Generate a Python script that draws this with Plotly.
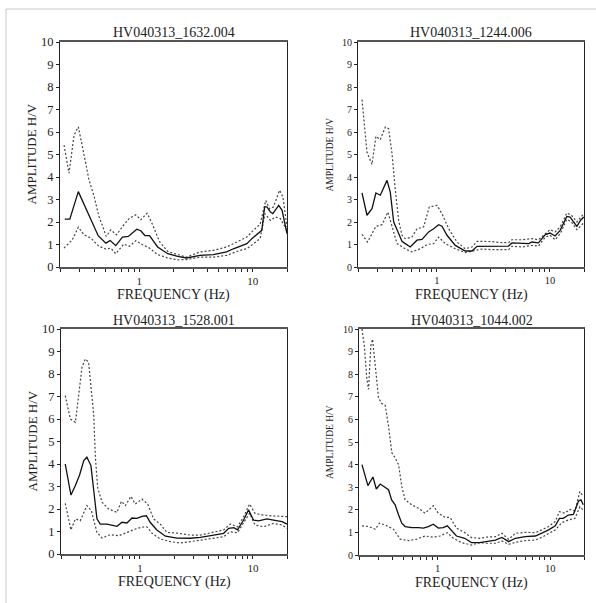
import plotly.graph_objects as go

# ---------------- data ----------------
titles = ["HV040313_1632.004", "HV040313_1244.006", "HV040313_1528.001", "HV040313_1044.002"]
x_tick_vals = [0.2, 0.3, 0.4, 0.5, 0.6, 0.7, 0.8, 0.9, 1, 2, 3, 4, 5, 6, 7, 8, 9, 10, 20]
x_tick_text = ["", "", "", "", "", "", "", "", "1", "", "", "", "", "", "", "", "", "10", ""]
y_tick_vals = [0, 1, 2, 3, 4, 5, 6, 7, 8, 9, 10]

# Panel 1: HV040313_1632.004
p1_mean_f = [0.22, 0.244, 0.29, 0.337, 0.387, 0.434, 0.507, 0.554, 0.62, 0.71, 0.80, 0.87, 0.95, 1.03, 1.12, 1.23, 1.45, 1.78, 2.18, 2.6, 3.42, 4.49, 5.88, 6.74, 7.73, 8.86, 9.8, 11.2, 12.0, 12.7, 13.3, 14.3, 15.0, 16.9, 18.1, 20]
p1_mean = [2.13, 2.13, 3.35, 2.61, 1.95, 1.39, 1.06, 1.18, 0.95, 1.33, 1.36, 1.51, 1.68, 1.61, 1.40, 1.39, 0.89, 0.59, 0.47, 0.40, 0.52, 0.55, 0.67, 0.81, 0.92, 1.04, 1.26, 1.48, 1.63, 2.67, 2.67, 2.44, 2.37, 2.74, 2.52, 1.48]
p1_up_f = [0.217, 0.24, 0.266, 0.29, 0.315, 0.36, 0.40, 0.44, 0.47, 0.51, 0.56, 0.63, 0.71, 0.82, 0.93, 1.03, 1.17, 1.31, 1.50, 1.78, 2.18, 2.6, 3.42, 4.49, 5.88, 7.73, 8.86, 10.1, 11.6, 13.0, 14.0, 15.2, 17.2, 18.4, 20]
p1_up = [5.42, 4.17, 5.86, 6.23, 5.35, 3.87, 3.13, 2.25, 1.88, 1.36, 1.65, 1.43, 1.80, 2.17, 2.32, 2.10, 2.39, 1.88, 1.14, 0.69, 0.55, 0.44, 0.67, 0.74, 0.89, 1.19, 1.33, 1.63, 1.90, 2.96, 2.59, 2.67, 3.41, 3.11, 1.78]
p1_lo_f = [0.217, 0.257, 0.29, 0.326, 0.373, 0.44, 0.507, 0.56, 0.62, 0.73, 0.82, 0.93, 1.07, 1.23, 1.45, 1.78, 2.18, 2.6, 3.42, 4.49, 5.88, 7.73, 8.86, 10.1, 11.6, 12.8, 14.3, 15.8, 17.5, 20]
p1_lo = [0.84, 1.21, 1.77, 1.43, 1.29, 0.92, 0.80, 0.84, 0.59, 1.02, 0.92, 1.17, 0.99, 0.84, 0.55, 0.40, 0.32, 0.33, 0.44, 0.44, 0.52, 0.74, 0.81, 1.04, 1.26, 2.37, 2.07, 2.22, 2.15, 1.63]

# Panel 2: HV040313_1244.006
p2_mean_f = [0.217, 0.24, 0.266, 0.288, 0.315, 0.361, 0.386, 0.414, 0.452, 0.49, 0.524, 0.58, 0.665, 0.737, 0.844, 0.934, 1.034, 1.107, 1.226, 1.453, 1.78, 2.04, 2.26, 2.68, 3.07, 3.76, 4.3, 4.6, 5.65, 6.5, 6.9, 7.9, 9.1, 10.0, 11.1, 12.3, 14.1, 15.1, 16.2, 17.3, 18.6, 19.9]
p2_mean = [3.29, 2.30, 2.59, 3.29, 3.19, 3.85, 3.33, 2.0, 1.56, 1.14, 1.04, 0.89, 1.19, 1.23, 1.56, 1.70, 1.88, 1.81, 1.41, 0.96, 0.71, 0.71, 0.92, 0.93, 0.93, 0.93, 0.93, 1.07, 1.07, 1.04, 1.11, 1.07, 1.44, 1.51, 1.38, 1.63, 2.25, 2.22, 2.0, 1.81, 2.07, 2.22]
p2_up_f = [0.217, 0.24, 0.266, 0.288, 0.315, 0.349, 0.373, 0.40, 0.428, 0.458, 0.49, 0.524, 0.60, 0.665, 0.762, 0.855, 1.0, 1.107, 1.268, 1.503, 1.78, 2.04, 2.26, 2.68, 3.07, 3.76, 4.3, 4.6, 5.65, 6.9, 7.9, 9.1, 10.0, 11.1, 12.3, 14.1, 15.5, 17.3, 19.9]
p2_up = [7.44, 5.11, 4.56, 5.81, 5.66, 6.22, 6.15, 5.04, 3.41, 2.07, 1.41, 1.26, 1.33, 1.70, 1.78, 2.67, 2.74, 2.37, 1.70, 1.11, 0.81, 0.89, 1.14, 1.14, 1.13, 1.08, 1.08, 1.21, 1.21, 1.26, 1.21, 1.48, 1.66, 1.56, 1.78, 2.40, 2.30, 2.0, 2.37]
p2_lo_f = [0.217, 0.243, 0.288, 0.326, 0.368, 0.40, 0.443, 0.524, 0.60, 0.712, 0.816, 0.934, 1.034, 1.185, 1.453, 1.78, 2.18, 2.5, 3.07, 4.3, 4.6, 5.65, 6.9, 7.9, 9.1, 10.0, 11.1, 12.3, 14.1, 15.5, 17.3, 19.9]
p2_lo = [1.45, 1.11, 1.81, 1.88, 2.44, 1.78, 1.04, 0.81, 0.67, 0.81, 1.0, 1.04, 1.33, 1.04, 0.81, 0.64, 0.74, 0.80, 0.77, 0.77, 0.92, 0.89, 0.96, 0.93, 1.33, 1.41, 1.21, 1.48, 2.12, 2.0, 1.66, 1.96]

# Panel 3: HV040313_1528.001
p3_mean_f = [0.218, 0.245, 0.268, 0.292, 0.318, 0.339, 0.368, 0.389, 0.416, 0.445, 0.511, 0.585, 0.626, 0.693, 0.767, 0.849, 0.941, 1.04, 1.14, 1.23, 1.41, 1.68, 2.13, 2.79, 3.42, 4.49, 5.5, 6.1, 6.77, 7.3, 8.26, 9.13, 10.1, 11.2, 13.3, 15.2, 18.1, 20]
p3_mean = [4.0, 2.62, 3.04, 3.51, 4.15, 4.30, 3.93, 2.96, 1.56, 1.33, 1.33, 1.26, 1.23, 1.41, 1.38, 1.60, 1.58, 1.67, 1.70, 1.41, 1.07, 0.79, 0.71, 0.70, 0.74, 0.84, 0.92, 1.14, 1.17, 1.07, 1.51, 1.96, 1.51, 1.47, 1.56, 1.51, 1.44, 1.33]
p3_up_f = [0.218, 0.242, 0.268, 0.287, 0.307, 0.328, 0.351, 0.371, 0.389, 0.403, 0.422, 0.461, 0.528, 0.626, 0.684, 0.742, 0.832, 0.909, 1.04, 1.17, 1.32, 1.51, 1.73, 2.13, 2.79, 3.42, 4.49, 5.5, 6.3, 7.3, 8.26, 9.33, 10.4, 12.4, 15.2, 18.1, 20]
p3_up = [7.04, 6.0, 5.85, 6.96, 8.30, 8.67, 8.52, 7.26, 6.22, 4.30, 2.96, 2.30, 2.0, 1.85, 2.34, 2.15, 2.56, 2.22, 2.44, 2.22, 1.56, 1.33, 0.96, 0.93, 0.84, 0.84, 0.99, 1.07, 1.33, 1.21, 1.66, 2.22, 1.81, 1.73, 1.69, 1.66, 1.66]
p3_lo_f = [0.218, 0.245, 0.268, 0.296, 0.339, 0.371, 0.416, 0.461, 0.546, 0.648, 0.767, 0.909, 1.04, 1.15, 1.28, 1.51, 1.86, 2.27, 2.79, 3.42, 4.49, 5.5, 6.3, 7.3, 8.26, 9.33, 10.4, 12.4, 15.2, 18.1, 20]
p3_lo = [2.25, 1.07, 1.56, 1.48, 2.15, 1.93, 0.96, 0.71, 0.86, 0.81, 0.96, 1.11, 1.19, 1.21, 0.92, 0.67, 0.55, 0.49, 0.55, 0.62, 0.73, 0.77, 0.99, 0.95, 1.39, 1.81, 1.29, 1.21, 1.36, 1.29, 1.14]

# Panel 4: HV040313_1044.002
p4_mean_f = [0.2125, 0.24, 0.266, 0.285, 0.309, 0.342, 0.366, 0.39, 0.419, 0.449, 0.48, 0.514, 0.589, 0.675, 0.747, 0.827, 0.915, 1.014, 1.12, 1.22, 1.33, 1.47, 1.74, 2.0, 2.37, 2.71, 3.26, 3.73, 4.28, 4.9, 6.0, 7.4, 8.4, 9.7, 11.1, 12.1, 13.1, 14.5, 16.1, 17.9, 18.8, 19.7]
p4_mean = [4.0, 3.07, 3.45, 2.92, 3.14, 2.99, 2.89, 2.44, 2.22, 1.78, 1.41, 1.26, 1.21, 1.21, 1.19, 1.26, 1.36, 1.19, 1.21, 1.29, 1.07, 0.84, 0.74, 0.55, 0.55, 0.59, 0.66, 0.78, 0.59, 0.74, 0.81, 0.84, 0.96, 1.11, 1.29, 1.62, 1.62, 1.77, 1.80, 2.39, 2.44, 2.22]
p4_up_f = [0.2125, 0.223, 0.235, 0.243, 0.255, 0.264, 0.279, 0.298, 0.319, 0.342, 0.366, 0.392, 0.419, 0.449, 0.48, 0.514, 0.589, 0.675, 0.773, 0.855, 0.915, 1.014, 1.16, 1.29, 1.47, 1.74, 2.0, 2.37, 2.71, 3.26, 3.73, 4.28, 4.9, 6.0, 7.4, 8.4, 9.7, 11.1, 12.1, 13.5, 15.0, 16.6, 18.4, 19.7]
p4_up = [10.0, 9.26, 7.78, 7.33, 9.26, 9.55, 8.37, 6.96, 6.70, 6.62, 5.70, 4.52, 4.30, 4.0, 3.04, 2.44, 2.22, 2.07, 1.85, 2.07, 2.18, 1.85, 1.67, 1.66, 1.19, 0.99, 0.77, 0.74, 0.79, 0.81, 0.96, 0.69, 0.96, 1.0, 0.99, 1.11, 1.26, 1.48, 1.92, 1.85, 2.02, 1.95, 2.81, 2.58]
p4_lo_f = [0.2125, 0.243, 0.279, 0.304, 0.342, 0.405, 0.464, 0.55, 0.652, 0.773, 0.915, 1.049, 1.22, 1.38, 1.63, 2.0, 2.37, 2.71, 3.26, 3.73, 4.28, 4.9, 6.0, 7.4, 8.4, 9.7, 11.1, 12.7, 14.5, 16.6, 18.4, 19.7]
p4_lo = [1.29, 1.26, 1.14, 1.41, 1.33, 1.14, 0.70, 0.64, 0.70, 0.84, 0.79, 0.84, 0.99, 0.74, 0.55, 0.44, 0.55, 0.52, 0.52, 0.62, 0.47, 0.56, 0.64, 0.66, 0.78, 0.96, 1.11, 1.43, 1.55, 1.62, 2.14, 1.99]

panels = [
    (p1_mean_f, p1_mean, p1_up_f, p1_up, p1_lo_f, p1_lo),
    (p2_mean_f, p2_mean, p2_up_f, p2_up, p2_lo_f, p2_lo),
    (p3_mean_f, p3_mean, p3_up_f, p3_up, p3_lo_f, p3_lo),
    (p4_mean_f, p4_mean, p4_up_f, p4_up, p4_lo_f, p4_lo),
]

# ---------------- layout ----------------
W, H = 596, 603
# pixel boxes: (left, right, top, bottom)
boxes = [(60, 287, 42, 267), (358, 584, 42, 267), (61, 287, 329, 554), (359, 584, 329, 555)]
ytitle_size = [13, 9.5, 13, 9.5]
ytick_size = [12.5, 10, 12.5, 10]
xtick_size = [11, 10.5, 11, 10.5]
FONT = "Liberation Serif"

fig = go.Figure()
layout = dict(template="none", width=W, height=H, margin=dict(l=0, r=0, t=0, b=0, pad=0),
              paper_bgcolor="white", plot_bgcolor="white", showlegend=False,
              font=dict(family=FONT, color="#222"))
annotations = []

for i, (mf, mv, uf, uv, lf, lv) in enumerate(panels):
    k = "" if i == 0 else str(i + 1)
    xa, ya = "x" + k, "y" + k
    for f, v, dash, col, w in [(uf, uv, "2px,2px", "#444", 1.2), (lf, lv, "2px,2px", "#444", 1.2), (mf, mv, "solid", "#111", 1.3)]:
        fig.add_trace(go.Scatter(x=f, y=v, mode="lines", xaxis=xa, yaxis=ya,
                                 line=dict(color=col, width=w, dash=dash), hoverinfo="skip"))
    l, r, t, b = boxes[i]
    layout["xaxis" + k] = dict(type="log", range=[-0.699, 1.301], domain=[l / W, r / W], anchor=ya, automargin=False,
                               tickvals=x_tick_vals, ticktext=x_tick_text, ticks="outside", ticklen=3,
                               tickcolor="#222", showline=True, linecolor="#555", linewidth=1.5, mirror=True,
                               showgrid=False, zeroline=False, tickfont=dict(size=xtick_size[i], family=FONT, color="#222"))
    layout["yaxis" + k] = dict(range=[0, 10], domain=[1 - b / H, 1 - t / H], anchor=xa, automargin=False,
                               tickvals=y_tick_vals, ticks="outside", ticklen=3, tickcolor="#222",
                               showline=True, linecolor="#222", linewidth=1, mirror=True,
                               showgrid=False, zeroline=False, tickfont=dict(size=ytick_size[i], family=FONT, color="#222"))
    cx = (l + r) / 2 / W
    annotations.append(dict(text=titles[i], x=cx, y=1 - (t - 9) / H, xref="paper", yref="paper",
                            showarrow=False, font=dict(size=14, family=FONT, color="#222"), xanchor="center", yanchor="middle"))
    annotations.append(dict(text="FREQUENCY (Hz)", x=cx, y=1 - (b + 28) / H, xref="paper", yref="paper",
                            showarrow=False, font=dict(size=14, family=FONT, color="#222"), xanchor="center", yanchor="middle"))
    annotations.append(dict(text="AMPLITUDE H/V", x=(l - 29) / W, y=1 - ((t + b) / 2) / H, xref="paper", yref="paper",
                            showarrow=False, textangle=-90, font=dict(size=ytitle_size[i], family=FONT, color="#222"),
                            xanchor="center", yanchor="middle"))

layout["annotations"] = annotations
layout["shapes"] = [
    dict(type="line", xref="paper", yref="paper", x0=6 / W, x1=1, y0=1 - 9 / H, y1=1 - 9 / H, line=dict(color="#c8c8c8", width=1)),
    dict(type="line", xref="paper", yref="paper", x0=6 / W, x1=6 / W, y0=0, y1=1 - 9 / H, line=dict(color="#c8c8c8", width=1)),
]
fig.update_layout(**layout)
fig.write_html("out.html", config={"displayModeBar": False},
               post_script="document.body.style.margin='0';document.body.style.padding='0';")
